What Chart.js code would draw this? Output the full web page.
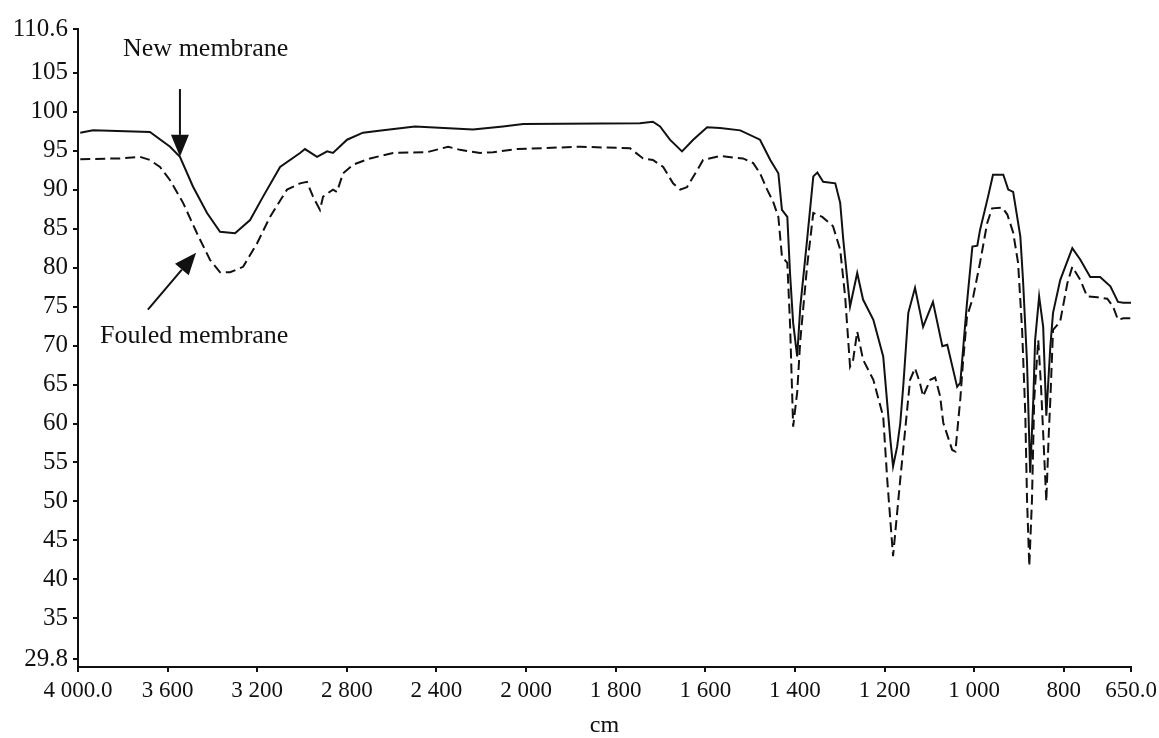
<!DOCTYPE html>
<html>
<head>
<meta charset="utf-8">
<script src="https://cdn.jsdelivr.net/npm/chart.js@4.4.0/dist/chart.umd.min.js"></script>
<style>
  html, body { margin: 0; padding: 0; background: #fff; }
  #wrap { width: 1159px; height: 738px; position: relative; }
</style>
</head>
<body>
<div id="wrap"><canvas id="ftir"></canvas></div>
<script>
// wavenumber (cm-1) and transmittance (%)
const newWn = [3990, 3933, 3679, 3589, 3545, 3487, 3424, 3366, 3299, 3232, 3174, 3098, 3009, 2987, 2933, 2888, 2862, 2799, 2728, 2638, 2496, 2237, 2103, 2013,
  1746, 1717, 1701, 1679, 1652, 1627, 1596, 1567, 1522, 1478, 1455, 1437, 1429, 1417, 1411, 1404, 1395, 1388, 1373, 1359, 1350, 1337, 1310, 1299, 1292, 1283,
  1277, 1261, 1248, 1225, 1203, 1187, 1181, 1172, 1165, 1158, 1147, 1132, 1114, 1092, 1071, 1060, 1038, 1031, 1016, 1004, 993, 987, 969, 958, 935, 924, 913,
  897, 891, 882, 875, 868, 864, 855, 846, 839, 830, 824, 808, 781, 763, 741, 719, 696, 679, 667, 650];
const newT = [97.3, 97.6, 97.4, 95.5, 94.2, 90.4, 87.0, 84.6, 84.4, 86.1, 89.1, 92.9, 94.7, 95.2, 94.2, 94.9, 94.7, 96.4, 97.3, 97.6, 98.1, 97.7, 98.1, 98.4,
  98.5, 98.7, 98.1, 96.4, 94.9, 96.4, 98.0, 97.9, 97.6, 96.4, 93.8, 92.1, 87.4, 86.5, 79.3, 72.9, 68.6, 75.0, 83.5, 91.7, 92.2, 91.0, 90.8, 88.3, 83.5, 78.4,
  75.0, 79.3, 75.9, 73.3, 68.6, 57.9, 54.5, 57.0, 60.0, 65.0, 74.2, 77.4, 72.4, 75.6, 69.9, 70.1, 64.7, 65.2, 75.5, 82.7, 82.8, 84.8, 89.1, 91.9, 91.9, 90.0, 89.7,
  84.0, 78.4, 67.8, 53.7, 63.1, 70.7, 76.3, 72.4, 61.0, 69.9, 74.2, 78.4, 82.5, 81.0, 78.8, 78.8, 77.6, 75.6, 75.5, 75.5];

const fouledWn = [3990, 3813, 3723, 3679, 3634, 3589, 3531, 3469, 3411, 3366, 3321, 3263, 3201, 3143, 3067, 3009, 2978, 2951, 2920, 2906, 2862, 2844, 2817, 2772,
  2696, 2594, 2442, 2348, 2295, 2205, 2147, 2040, 1879, 1768, 1739, 1717, 1694, 1672, 1656, 1641, 1618, 1605, 1567, 1516, 1493, 1478, 1462, 1449, 1437, 1429,
  1417, 1411, 1404, 1395, 1388, 1373, 1359, 1339, 1315, 1299, 1288, 1277, 1270, 1261, 1248, 1225, 1203, 1194, 1181, 1165, 1143, 1132, 1121, 1114, 1098, 1087,
  1076, 1069, 1049, 1042, 1031, 1025, 1016, 1002, 987, 971, 960, 937, 926, 913, 902, 893, 886, 882, 877, 871, 866, 857, 851, 839, 834, 830, 824, 808, 792, 781,
  763, 748, 725, 703, 690, 679, 667, 650];
const fouledT = [93.9, 94.0, 94.2, 93.8, 92.9, 91.2, 88.3, 84.4, 81.0, 79.4, 79.4, 80.1, 83.1, 86.5, 90.0, 90.8, 91.0, 89.1, 87.4, 89.1, 90.0, 89.7, 92.1, 93.2,
  94.0, 94.7, 94.8, 95.5, 95.1, 94.7, 94.8, 95.2, 95.5, 95.3, 94.0, 93.8, 92.9, 90.8, 90.0, 90.3, 92.5, 93.8, 94.3, 94.0, 93.4, 92.1, 90.0, 88.5, 86.5, 81.4,
  80.6, 72.9, 59.6, 64.0, 70.7, 80.1, 87.0, 86.5, 85.3, 82.3, 76.3, 67.3, 68.2, 71.8, 68.2, 65.6, 60.9, 52.8, 43.0, 52.8, 65.6, 67.1, 65.2, 63.5, 65.6, 65.9,
  63.5, 60.1, 56.6, 56.4, 63.1, 67.8, 73.7, 76.3, 80.6, 85.7, 87.6, 87.7, 86.8, 84.5, 80.6, 72.0, 61.4, 50.2, 41.7, 50.2, 63.1, 70.7, 65.0, 50.0, 58.0, 63.1,
  72.0, 73.1, 78.0, 80.1, 78.4, 76.3, 76.2, 76.0, 75.0, 73.3, 73.5, 73.5];

const xTickValues = [4000, 3600, 3200, 2800, 2400, 2000, 1800, 1600, 1400, 1200, 1000, 800, 650];
const xTickLabels = ['4 000.0', '3 600', '3 200', '2 800', '2 400', '2 000', '1 800', '1 600', '1 400', '1 200', '1 000', '800', '650.0'];
const yTickValues = [29.8, 35, 40, 45, 50, 55, 60, 65, 70, 75, 80, 85, 90, 95, 100, 105, 110.6];

// the instrument axis changes scale at 2000 cm-1 (400 per division above, 200 below)
function toU(wn) {
  return wn >= 2000 ? (4000 - wn) / 400 : 5 + (2000 - wn) / 200;
}

function pts(xs, ys) {
  return xs.map(function (w, i) { return { x: toU(w), y: ys[i] }; });
}

const FONT = "'Liberation Serif', 'Times New Roman', serif";

const notes = {
  newText: { wn: 3799, t: 108.0, text: 'New membrane' },
  fouledText: { wn: 3902, t: 71.2, text: 'Fouled membrane' },
  newArrow: { from: [3545, 102.9], to: [3545, 94.2] },
  fouledArrow: { from: [3688, 74.6], to: [3473, 81.9] },
};

function arrow(ctx, x1, y1, x2, y2) {
  const a = Math.atan2(y2 - y1, x2 - x1);
  const len = 22, half = 9;
  const bx = x2 - len * Math.cos(a), by = y2 - len * Math.sin(a);
  ctx.beginPath();
  ctx.moveTo(x1, y1);
  ctx.lineTo(bx, by);
  ctx.stroke();
  ctx.beginPath();
  ctx.moveTo(x2, y2);
  ctx.lineTo(bx + half * Math.sin(a), by - half * Math.cos(a));
  ctx.lineTo(bx - half * Math.sin(a), by + half * Math.cos(a));
  ctx.closePath();
  ctx.fill();
}

const notePlugin = {
  id: 'notes',
  afterDatasetsDraw: function (chart) {
    const ctx = chart.ctx, xs = chart.scales.x, ys = chart.scales.y;
    const px = function (wn) { return xs.getPixelForValue(toU(wn)); };
    const py = function (t) { return ys.getPixelForValue(t); };
    ctx.save();
    ctx.fillStyle = '#111';
    ctx.strokeStyle = '#111';
    ctx.lineWidth = 2;
    ctx.font = '26px ' + FONT;
    ctx.textAlign = 'left';
    ctx.textBaseline = 'middle';
    ctx.fillText(notes.newText.text, px(notes.newText.wn), py(notes.newText.t));
    ctx.fillText(notes.fouledText.text, px(notes.fouledText.wn), py(notes.fouledText.t));
    const na = notes.newArrow, fa = notes.fouledArrow;
    arrow(ctx, px(na.from[0]), py(na.from[1]), px(na.to[0]), py(na.to[1]));
    arrow(ctx, px(fa.from[0]), py(fa.from[1]), px(fa.to[0]), py(fa.to[1]));
    ctx.restore();
  }
};

new Chart(document.getElementById('ftir'), {
  type: 'line',
  data: {
    datasets: [{
      label: 'New membrane',
      data: pts(newWn, newT),
      borderColor: '#111',
      borderWidth: 2,
      pointRadius: 0,
      tension: 0,
      fill: false,
    }, {
      label: 'Fouled membrane',
      data: pts(fouledWn, fouledT),
      borderColor: '#111',
      borderWidth: 2,
      borderDash: [10, 5],
      pointRadius: 0,
      tension: 0,
      fill: false,
    }],
  },
  options: {
    responsive: true,
    maintainAspectRatio: false,
    animation: false,
    layout: { padding: { left: 0, right: 28, top: 29, bottom: 0 } },
    plugins: { legend: { display: false }, tooltip: { enabled: false } },
    scales: {
      x: {
        type: 'linear',
        min: 0,
        max: toU(650),
        afterBuildTicks: function (scale) {
          scale.ticks = xTickValues.map(function (w) { return { value: toU(w) }; });
        },
        afterFit: function (scale) {
          scale.height = 71;
          scale.paddingRight = 0;
          scale.paddingLeft = 0;
        },
        ticks: {
          color: '#111',
          font: { family: FONT, size: 23 },
          padding: 5,
          maxRotation: 0,
          autoSkip: false,
          callback: function (v, i) { return xTickLabels[i]; },
        },
        grid: { drawOnChartArea: false, drawTicks: true, tickLength: 5, color: '#111', lineWidth: 2 },
        border: { display: true, color: '#111', width: 2 },
        title: { display: true, text: 'cm', color: '#111', font: { family: FONT, size: 24, lineHeight: 1 }, padding: { top: 0, bottom: 0 } },
      },
      y: {
        min: 28.77,
        max: 110.6,
        afterBuildTicks: function (scale) {
          scale.ticks = yTickValues.map(function (v) { return { value: v }; });
        },
        afterFit: function (scale) { scale.width = 78; },
        ticks: {
          color: '#111',
          font: { family: FONT, size: 25 },
          padding: 5,
          autoSkip: false,
          callback: function (v) { return String(v); },
        },
        grid: { drawOnChartArea: false, drawTicks: true, tickLength: 5, color: '#111', lineWidth: 2 },
        border: { display: true, color: '#111', width: 2 },
      },
    },
  },
  plugins: [notePlugin],
});
</script>
</body>
</html>
